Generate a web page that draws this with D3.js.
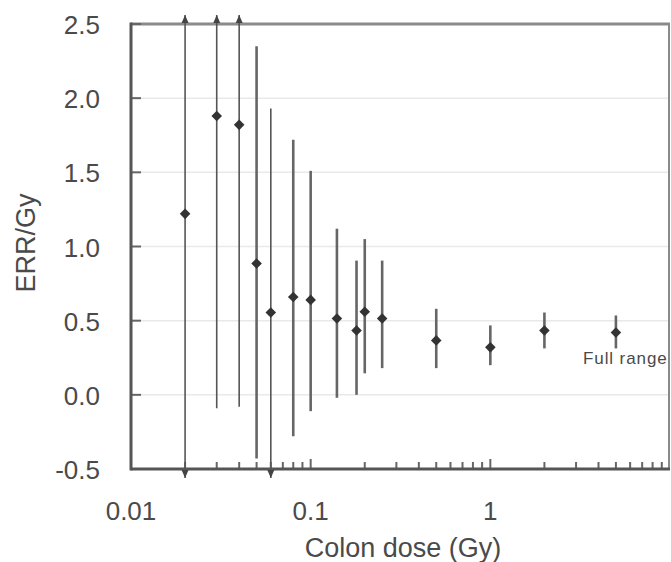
<!DOCTYPE html>
<html>
<head>
<meta charset="utf-8">
<script src="https://cdn.jsdelivr.net/npm/d3@7/dist/d3.min.js"></script>
<style>
  body { margin: 0; background: #fff; }
  text { font-family: "Liberation Sans", Arial, sans-serif; fill: #4a4a4a; }
</style>
</head>
<body>
<div id="chart"></div>
<script>
// Colon dose categories (Gy)
const doses = [0.02, 0.03, 0.04, 0.05, 0.06, 0.08, 0.1, 0.14, 0.18, 0.2, 0.25, 0.5, 1, 2, 5];

// ERR/Gy estimates and confidence bounds (null = beyond the plotted range)
const errPerGy = [1.22, 1.88, 1.82, 0.885, 0.555, 0.66, 0.64, 0.515, 0.434, 0.56, 0.515, 0.367, 0.32, 0.434, 0.42];
const lowerCI = [null, -0.09, -0.08, -0.43, null, -0.28, -0.11, -0.02, 0.0, 0.145, 0.18, 0.18, 0.2, 0.313, 0.313];
const upperCI = [null, null, null, 2.35, 1.93, 1.72, 1.51, 1.12, 0.905, 1.05, 0.905, 0.58, 0.468, 0.555, 0.535];

// Tick labels
const yTicks = [-0.5, 0.0, 0.5, 1.0, 1.5, 2.0, 2.5];
const xLabels = [0.01, 0.1, 1];

const width = 671, height = 562;
const margins = { top: 24, bottom: 93, left: 131, right: 1 };

const x = d3.scaleLog()
  .domain([0.01, 10])
  .range([margins.left, width - margins.right]);

const y = d3.scaleLinear()
  .domain([-0.5, 2.5])
  .range([height - margins.bottom, margins.top]);

const svg = d3.select('#chart')
  .append('svg')
  .attr('width', width)
  .attr('height', height);

const [x0, x1] = x.range();
const [yb, yt] = y.range();

// Horizontal gridlines
svg.append('g')
  .selectAll('line')
  .data(yTicks.filter(t => t > -0.5 && t < 2.5))
  .join('line')
  .attr('x1', x0).attr('x2', x1)
  .attr('y1', d => y(d)).attr('y2', d => y(d))
  .attr('stroke', '#e9e9e9')
  .attr('stroke-width', 1.5);

// Frame: top and right edges
svg.append('line')
  .attr('x1', x0).attr('x2', x1).attr('y1', yt).attr('y2', yt)
  .attr('stroke', '#8a8a8a').attr('stroke-width', 3);
svg.append('line')
  .attr('x1', x1 - 1).attr('x2', x1 - 1).attr('y1', yt).attr('y2', yb)
  .attr('stroke', '#8a8a8a').attr('stroke-width', 2);

// Y axis ticks pointing inward
svg.append('g')
  .selectAll('line')
  .data(yTicks)
  .join('line')
  .attr('x1', x0).attr('x2', x0 + 10)
  .attr('y1', d => y(d)).attr('y2', d => y(d))
  .attr('stroke', '#666').attr('stroke-width', 2);

svg.append('g')
  .selectAll('text')
  .data(yTicks)
  .join('text')
  .attr('x', 100)
  .attr('y', d => y(d) + 1)
  .attr('dy', '0.35em')
  .attr('text-anchor', 'end')
  .style('font-size', '26px')
  .text(d => d.toFixed(1));

// X axis ticks (minor every 1..9 in each decade, major at decades)
const xTickVals = x.ticks().filter(t => t > 0.01 && t < 10);
svg.append('g')
  .selectAll('line')
  .data(xTickVals)
  .join('line')
  .attr('x1', d => x(d)).attr('x2', d => x(d))
  .attr('y1', yb)
  .attr('y2', d => yb - (xLabels.includes(d) ? 10 : 7))
  .attr('stroke', '#666').attr('stroke-width', 2);

svg.append('g')
  .selectAll('text')
  .data(xLabels)
  .join('text')
  .attr('x', d => x(d))
  .attr('y', 520)
  .attr('text-anchor', 'middle')
  .style('font-size', '26px')
  .text(d => String(d));

// Left and bottom axis lines
svg.append('line')
  .attr('x1', x0).attr('x2', x0).attr('y1', yt - 1.5).attr('y2', yb + 1.5)
  .attr('stroke', '#555').attr('stroke-width', 3);
svg.append('line')
  .attr('x1', x0).attr('x2', x1).attr('y1', yb).attr('y2', yb)
  .attr('stroke', '#555').attr('stroke-width', 3);

// Axis titles
svg.append('text')
  .attr('transform', `translate(35, 243) rotate(-90)`)
  .attr('text-anchor', 'middle')
  .style('font-size', '27px')
  .text('ERR/Gy');

svg.append('text')
  .attr('x', 403)
  .attr('y', 557)
  .attr('text-anchor', 'middle')
  .style('font-size', '27px')
  .text('Colon dose (Gy)');

// Error bars, arrows where the interval leaves the plot
const points = doses.map((d, i) => ({
  x: d, y: errPerGy[i], lo: lowerCI[i], hi: upperCI[i]
}));
const tipOut = 9, arrowH = 8, arrowW = 3.5;

const bars = svg.append('g');
points.forEach(p => {
  const px = x(p.x);
  const top = p.hi === null ? yt - tipOut : y(p.hi);
  const bot = p.lo === null ? yb + tipOut : y(p.lo);
  const clipped = p.hi === null || p.lo === null;

  bars.append('line')
    .attr('x1', px).attr('x2', px)
    .attr('y1', top).attr('y2', bot)
    .attr('stroke', clipped ? '#555' : '#666')
    .attr('stroke-width', clipped ? 1.6 : 2.6);

  if(p.hi === null)
    bars.append('path')
      .attr('d', `M${px},${top}L${px - arrowW},${top + arrowH}L${px + arrowW},${top + arrowH}Z`)
      .attr('fill', '#444');
  if(p.lo === null)
    bars.append('path')
      .attr('d', `M${px},${bot}L${px - arrowW},${bot - arrowH}L${px + arrowW},${bot - arrowH}Z`)
      .attr('fill', '#444');
});

// Point estimates as diamonds
svg.append('g')
  .selectAll('path')
  .data(points)
  .join('path')
  .attr('d', d3.symbol(d3.symbolSquare, 56))
  .attr('transform', d => `translate(${x(d.x)},${y(d.y)}) rotate(45)`)
  .attr('fill', '#333');

svg.append('text')
  .attr('x', 583)
  .attr('y', 364)
  .style('font-size', '17px')
  .style('letter-spacing', '0.9px')
  .text('Full range');
</script>
</body>
</html>
